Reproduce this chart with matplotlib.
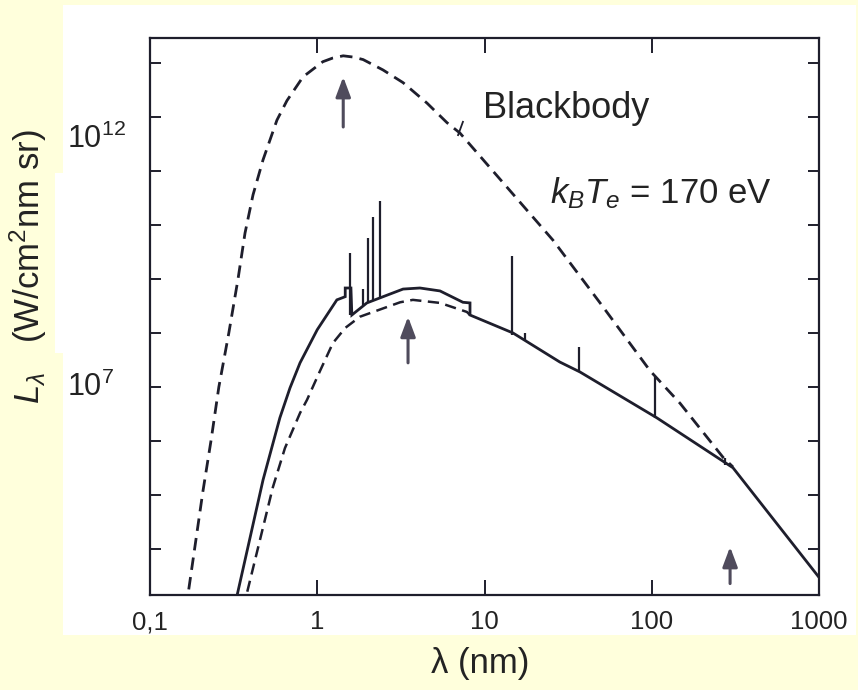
import matplotlib

matplotlib.use("Agg")
import matplotlib.pyplot as plt
import matplotlib.transforms as mtransforms
from matplotlib.patches import Rectangle
from matplotlib.ticker import NullLocator


# hot blackbody (upper dashed curve), wavelength in nm / L in W/cm2 nm sr
bb_hot_nm = [0.164, 0.207, 0.232, 0.258, 0.296, 0.336, 0.370, 0.413, 0.474, 0.574,
             0.659, 0.822, 1.08, 1.24, 1.43, 1.64, 1.88, 2.47, 3.26, 4.53,
             5.97, 7.14, 25.7, 49.1, 97.7, 147.6, 266.7, 306.2]
bb_hot_L = [7.8e2, 1.15e5, 1.05e6, 1.0e7, 1.0e8, 1.0e9, 7.1e9, 3.6e10, 1.6e11, 8.7e11,
            2.0e12, 5.5e12, 1.05e13, 1.23e13, 1.35e13, 1.28e13, 1.15e13, 7.4e12, 4.3e12, 1.8e12,
            7.8e11, 5.0e11, 5.2e9, 3.6e8, 2.0e7, 5.0e6, 5.0e5, 3.3e5]

# lower dashed blackbody-like curve
bb_cool_nm = [0.360, 0.543, 0.641, 0.789, 0.869, 1.04, 1.24, 1.47, 1.80, 3.13,
              3.73, 5.42, 7.85, 8.19]
bb_cool_L = [7.8e2, 1.4e5, 7.4e5, 3.3e6, 5.8e6, 2.0e7, 6.5e7, 1.24e8, 2.0e8, 3.7e8,
             4.1e8, 3.6e8, 2.45e8, 2.15e8]

# plasma continuum (solid curve)
cont_nm = [0.318, 0.474, 0.598, 0.687, 0.789, 1.0, 1.31, 1.47, 1.47, 1.59,
           1.61, 1.98, 2.61, 3.26, 4.11, 5.42, 7.43, 8.19, 8.19, 14.8,
           28.2, 37.2, 107, 306, 1000]
cont_L = [7.8e2, 1.9e5, 2.7e6, 9.6e6, 2.8e7, 1.15e8, 4.1e8, 4.7e8, 6.8e8, 6.8e8,
          2.15e8, 3.6e8, 5.0e8, 6.5e8, 6.8e8, 6.0e8, 3.7e8, 3.6e8, 2.15e8, 1.0e8,
          2.9e7, 1.9e7, 2.7e6, 3.2e5, 3.0e3]

# emission lines
line_nm = [1.57, 1.88, 2.01, 2.15, 2.37, 14.6, 17.5, 36.7, 104.5, 274]
line_top = [3.0e9, 6.5e8, 5.8e9, 1.4e10, 2.8e10, 2.7e9, 1.0e8, 5.5e7, 1.55e7, 4.9e5]
line_base = [2.15e8, 3.3e8, 3.6e8, 4.1e8, 4.7e8, 9.1e7, 7.4e7, 1.9e7, 2.7e6, 3.6e5]

# peak arrows
arrow_nm = [1.43, 3.49, 294]
arrow_tail = [6.5e11, 2.8e7, 2.3e3]
arrow_tip = [5.5e12, 2.0e8, 1.1e4]

x_ticks = [0.1, 1, 10, 100, 1000]
x_tick_labels = ["0,1", "1", "10", "100", "1000"]
y_ticks = [1e4, 1e5, 1e6, 1e7, 1e8, 1e9, 1e10, 1e11, 1e12, 1e13]
y_label_values = [1e7, 1e12]
y_label_texts = [r"$10^{7}$", r"$10^{12}$"]


def main() -> None:
    plt.rcParams["font.family"] = ["Liberation Sans", "DejaVu Sans"]
    plt.rcParams["mathtext.fontset"] = "custom"
    plt.rcParams["mathtext.rm"] = "Liberation Sans"
    plt.rcParams["mathtext.it"] = "Liberation Sans:italic"

    ink = "#1e1e2c"
    text_col = "#232323"

    fig = plt.figure(figsize=(8.58, 6.90), dpi=100, facecolor="#ffffdc")
    # white scanned-figure background
    fig.patches.append(Rectangle((63 / 858, 55 / 690), 793 / 858, 630 / 690,
                                 transform=fig.transFigure, facecolor="white",
                                 edgecolor="none", zorder=-10))
    fig.patches.append(Rectangle((55 / 858, 337 / 690), 8 / 858, 180 / 690,
                                 transform=fig.transFigure, facecolor="white",
                                 edgecolor="none", zorder=-10))

    ax = fig.add_axes([150 / 858, 95 / 690, 669 / 858, 557 / 690])
    ax.set_facecolor("white")
    ax.set_xscale("log")
    ax.set_yscale("log")
    ax.set_xlim(0.1, 1000)
    ax.set_ylim(10 ** 3.15, 10 ** 13.46)

    dash = (0, (4.5, 2.6))
    ax.plot(bb_hot_nm, bb_hot_L, color=ink, lw=2.0, linestyle=dash)
    ax.plot(bb_cool_nm, bb_cool_L, color=ink, lw=1.8, linestyle=dash)
    ax.plot(cont_nm, cont_L, color=ink, lw=2.0, solid_joinstyle="miter")
    ax.vlines(line_nm, line_base, line_top, color=ink, lw=1.6)

    for x, y0, y1 in zip(arrow_nm, arrow_tail, arrow_tip):
        ax.annotate("", xy=(x, y1), xytext=(x, y0),
                    arrowprops=dict(arrowstyle="-|>,head_length=0.8,head_width=0.3",
                                    mutation_scale=15, color="#4f4b5c", lw=2.2,
                                    shrinkA=0, shrinkB=0))

    # leader from "Blackbody" label to the curve
    ax.plot([7.43, 6.95], [8.1e11, 4.6e11], color=ink, lw=1.3)

    ax.text(0.498, 0.856, "Blackbody", transform=ax.transAxes, fontsize=26,
            color=text_col, ha="left", va="baseline")
    ax.text(0.598, 0.704, r"$k_{B}T_{e}$ = 170 eV", transform=ax.transAxes,
            fontsize=25, color=text_col, ha="left", va="baseline")

    ax.set_xticks(x_ticks)
    ax.set_xticklabels(x_tick_labels)
    ax.set_yticks(y_ticks)
    ax.set_yticklabels([])
    ax.xaxis.set_minor_locator(NullLocator())
    ax.yaxis.set_minor_locator(NullLocator())
    ax.tick_params(axis="x", which="major", direction="in", length=11, width=1.4,
                   top=True, labelsize=18.5, pad=11, labelcolor=text_col, color=ink)
    ax.tick_params(axis="y", which="major", direction="in", length=8, width=1.4,
                   right=True, color=ink)
    for spine in ax.spines.values():
        spine.set_linewidth(1.6)
        spine.set_color(ink)

    # y labels sit at the left edge of the white panel
    label_tf = mtransforms.blended_transform_factory(fig.transFigure, ax.transData)
    offsets = [0, -22]
    for val, txt, off in zip(y_label_values, y_label_texts, offsets):
        tf = label_tf + mtransforms.ScaledTranslation(0, off / 100, fig.dpi_scale_trans)
        ax.text(67 / 858, val, txt, transform=tf, fontsize=22, color=text_col,
                ha="left", va="center", clip_on=False)

    fig.text(28 / 858, 1 - 267 / 690, r"$L_{\lambda}$   (W/cm$^{2}$nm sr)",
             rotation=90, fontsize=25, color=text_col, ha="center", va="center")
    fig.text(480 / 858, 1 - 664 / 690, "λ (nm)", fontsize=25, color=text_col,
             ha="center", va="center")

    fig.savefig("out.png", dpi=100, facecolor=fig.get_facecolor())
    plt.close(fig)


if __name__ == "__main__":
    main()
